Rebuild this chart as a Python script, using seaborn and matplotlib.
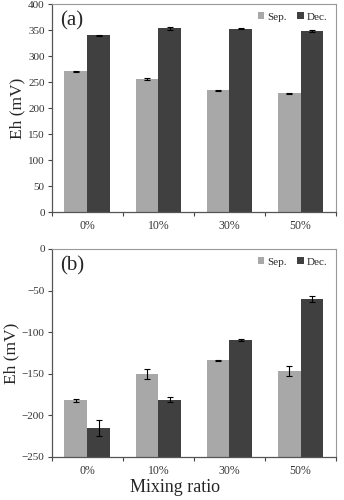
import pandas as pd
import matplotlib
matplotlib.use('Agg')
import matplotlib.pyplot as plt
import seaborn as sns

# 資料
ratios = ['0%', '10%', '30%', '50%']
seasons = ['Sep.', 'Dec.']
eh_a_sep = [271, 256, 234, 228]
eh_a_dec = [340, 353, 352, 348]
err_a_sep = [1, 2, 1, 1]
err_a_dec = [1, 3, 1, 1.5]
eh_b_sep = [-182, -150, -134, -147]
eh_b_dec = [-215, -181, -109, -60]
err_b_sep = [2, 6, 0.5, 6]
err_b_dec = [10, 3, 1, 4]

colors = {'Sep.': '#a8a8a8', 'Dec.': '#404040'}

sns.set_style('white')
plt.rcParams['font.family'] = ['Liberation Serif', 'DejaVu Serif']


def make_df(sep, dec):
    return pd.DataFrame({
        'ratio': ratios * 2,
        'season': ['Sep.'] * 4 + ['Dec.'] * 4,
        'eh': list(sep) + list(dec),
    })


fig = plt.figure(figsize=(3.44, 5.0), dpi=100)
ax_a = fig.add_axes([0.150, 0.576, 0.827, 0.416])
ax_b = fig.add_axes([0.150, 0.086, 0.827, 0.416])

panels = [
    (ax_a, make_df(eh_a_sep, eh_a_dec), [err_a_sep, err_a_dec], (0, 400), '(a)', 0),
    (ax_b, make_df(eh_b_sep, eh_b_dec), [err_b_sep, err_b_dec], (-250, 0), '(b)', -250),
]

for ax, df, errs, ylim, tag, base in panels:
    sns.barplot(data=df, x='ratio', y='eh', hue='season', hue_order=seasons,
                palette=colors, order=ratios, width=0.64, errorbar=None,
                linewidth=0, saturation=1, legend=False, ax=ax)
    # 長條從座標軸底部開始
    for cont in ax.containers:
        for bar in cont:
            h = bar.get_y() + bar.get_height()
            bar.set_y(base)
            bar.set_height(h - base)
    # 誤差線
    for cont, err in zip(ax.containers, errs):
        xs = [b.get_x() + b.get_width() / 2 for b in cont]
        ys = [b.get_y() + b.get_height() for b in cont]
        ax.errorbar(xs, ys, yerr=err, fmt='none', ecolor='black',
                    elinewidth=0.8, capsize=2.2, capthick=0.8)
    ax.set_ylim(*ylim)
    ax.set_xlim(-0.5, 3.5)
    ax.set_yticks(range(ylim[0], ylim[1] + 1, 50))
    ax.tick_params(axis='y', which='major', direction='out', length=3,
                   width=0.8, color='#444444', labelsize=8, pad=2, left=True,
                   labelcolor='#333333')
    ax.tick_params(axis='x', which='major', length=0, labelsize=8.5, pad=6,
                   labelcolor='#333333')
    ax.set_xticks([-0.5, 0.5, 1.5, 2.5, 3.5], minor=True)
    ax.tick_params(axis='x', which='minor', direction='out', length=3,
                   width=0.8, color='#444444', bottom=True)
    ax.set_ylabel('Eh (mV)', fontsize=12.5, labelpad=2)
    ax.set_xlabel('')
    for side in ['top', 'right']:
        ax.spines[side].set_color('#999999')
        ax.spines[side].set_linewidth(0.8)
    for side in ['left', 'bottom']:
        ax.spines[side].set_color('#555555')
        ax.spines[side].set_linewidth(0.9)
    ax.text(0.03, 0.965, tag, transform=ax.transAxes, fontsize=15,
            ha='left', va='top')
    ax.legend(ax.containers, seasons, loc='upper right', frameon=False,
              fontsize=8, ncol=2, handlelength=0.6, handleheight=0.6,
              handletextpad=0.3, columnspacing=0.9, borderaxespad=0.35)

ax_b.set_xlabel('Mixing ratio', fontsize=13, labelpad=2)
ax_b.xaxis.set_label_coords(0.435, -0.105)

fig.savefig('out.png', dpi=100)
